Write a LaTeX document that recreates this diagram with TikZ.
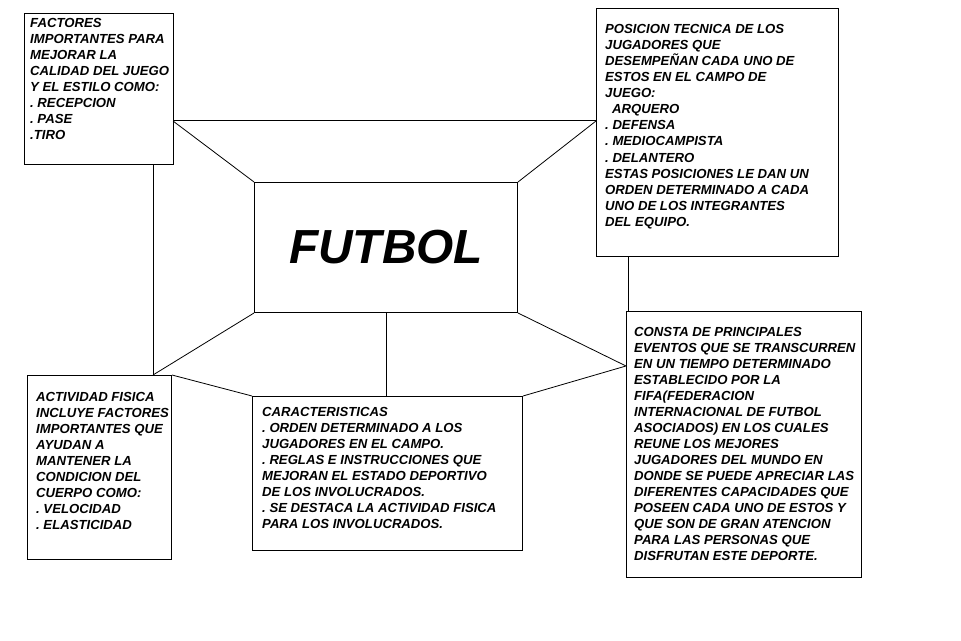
\documentclass[tikz,border=0pt]{standalone}
\usepackage{fontspec}
\setmainfont{Liberation Sans}
\usetikzlibrary{positioning}
\frenchspacing
\begin{document}
\begin{tikzpicture}[x=1bp,y=-1bp,
    caja/.style={draw, line width=1bp, inner sep=0pt, anchor=north west},
    texto/.style={inner sep=0pt, align=left, font=\bfseries\itshape\fontsize{13.2}{16.1}\selectfont}]
        \useasboundingbox (0,0) rectangle (961,641);

        % Cajas del mapa
        \node[caja, minimum width=149bp, minimum height=151bp] (factores) at (24,13) {};
        \node[caja, minimum width=242bp, minimum height=248bp] (posicion) at (596,8) {};
        \node[caja, minimum width=263bp, minimum height=130bp, font=\bfseries\itshape\fontsize{48}{48}\selectfont] (futbol) at (254,182) {FUTBOL};
        \node[caja, minimum width=144bp, minimum height=184bp] (actividad) at (27,375) {};
        \node[caja, minimum width=270bp, minimum height=154bp] (caracteristicas) at (252,396) {};
        \node[caja, minimum width=235bp, minimum height=266bp] (consta) at (626,311) {};

        % Textos de cada caja
        \node[texto, below right=5bp and 6bp of factores.north west] (factorestxt) {FACTORES\\IMPORTANTES PARA\\MEJORAR LA\\CALIDAD DEL JUEGO\\Y EL ESTILO COMO:\\. RECEPCION\\. PASE\\.TIRO};
        \node[texto, below right=16.3bp and 9bp of posicion.north west] (posiciontxt) {POSICION TECNICA DE LOS\\JUGADORES QUE\\DESEMPEÑAN CADA UNO DE\\ESTOS EN EL CAMPO DE\\JUEGO:\\\hspace*{7bp}ARQUERO\\. DEFENSA\\. MEDIOCAMPISTA\\. DELANTERO\\ESTAS POSICIONES LE DAN UN\\ORDEN DETERMINADO A CADA\\UNO DE LOS INTEGRANTES\\DEL EQUIPO.};
        \node[texto, below right=16.8bp and 9bp of actividad.north west] (actividadtxt) {ACTIVIDAD FISICA\\INCLUYE FACTORES\\IMPORTANTES QUE\\AYUDAN A\\MANTENER LA\\CONDICION DEL\\CUERPO COMO:\\. VELOCIDAD\\. ELASTICIDAD};
        \node[texto, below right=10.8bp and 10bp of caracteristicas.north west] (caracteristicastxt) {CARACTERISTICAS\\. ORDEN DETERMINADO A LOS\\JUGADORES EN EL CAMPO.\\. REGLAS E INSTRUCCIONES QUE\\MEJORAN EL ESTADO DEPORTIVO\\DE LOS INVOLUCRADOS.\\. SE DESTACA LA ACTIVIDAD FISICA\\PARA LOS INVOLUCRADOS.};
        \node[texto, below right=15.8bp and 8bp of consta.north west] (constatxt) {CONSTA DE PRINCIPALES\\EVENTOS QUE SE TRANSCURREN\\EN UN TIEMPO DETERMINADO\\ESTABLECIDO POR LA\\FIFA(FEDERACION\\INTERNACIONAL DE FUTBOL\\ASOCIADOS) EN LOS CUALES\\REUNE LOS MEJORES\\JUGADORES DEL MUNDO EN\\DONDE SE PUEDE APRECIAR LAS\\DIFERENTES CAPACIDADES QUE\\POSEEN CADA UNO DE ESTOS Y\\QUE SON DE GRAN ATENCION\\PARA LAS PERSONAS QUE\\DISFRUTAN ESTE DEPORTE.};

        % Puntos de union
        \coordinate (uizq) at (173,121);
        \coordinate (uder) at (596,121);
        \coordinate (uact) at (153,375);
        \coordinate (ucon) at (626,366);
        \coordinate (upos) at (628,256);

        % Conectores
        \draw[line width=1bp] (uizq) -- (uder);
        \draw[line width=0.8bp] (uizq) -- (futbol.north west);
        \draw[line width=0.8bp] (uder) -- (futbol.north east);
        \draw[line width=1bp] (uact |- factores.south) -- (uact);
        \draw[line width=0.8bp] (uact) -- (futbol.south west);
        \draw[line width=0.8bp] (actividad.north east) -- (caracteristicas.north west);
        \draw[line width=1bp] (futbol.south) -- (futbol.south |- caracteristicas.north);
        \draw[line width=0.8bp] (futbol.south east) -- (ucon) -- (caracteristicas.north east);
        \draw[line width=1bp] (upos) -- (upos |- consta.north);
\end{tikzpicture}
\end{document}
